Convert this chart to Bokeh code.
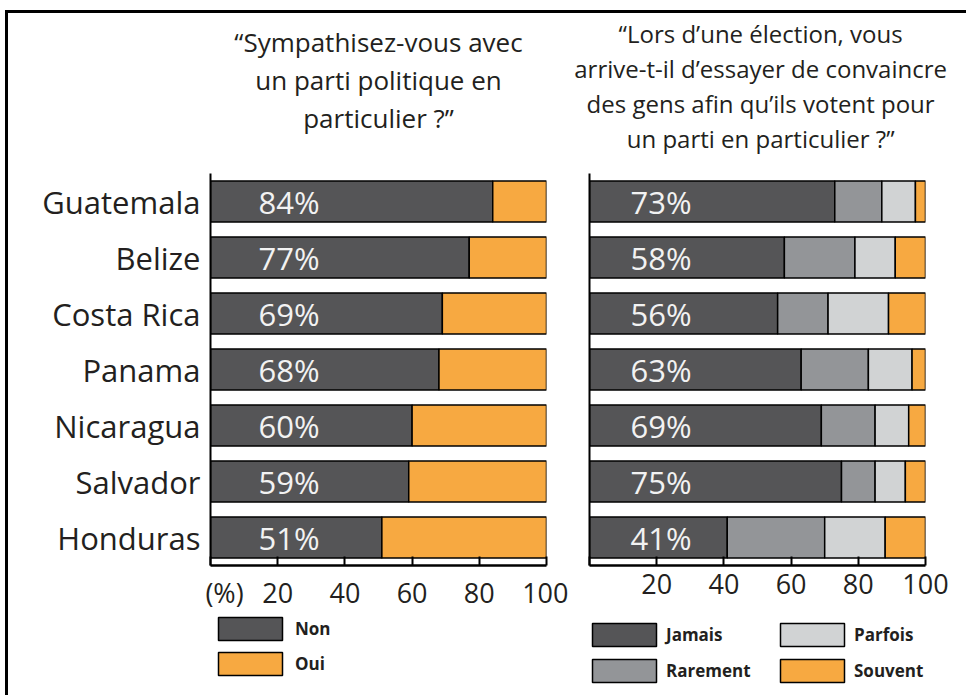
from bokeh.plotting import figure
from bokeh.models import (FactorRange, Range1d, FixedTicker, LabelSet, ColumnDataSource,
                          Legend, LegendItem, Title, Row, Column)
from bokeh.embed import file_html
from bokeh.resources import INLINE
from bokeh.core.properties import value

# ---- data ----
countries = ["Guatemala", "Belize", "Costa Rica", "Panama", "Nicaragua", "Salvador", "Honduras"]
non = [84, 77, 69, 68, 60, 59, 51]
oui = [16, 23, 31, 32, 40, 41, 49]
jamais = [73, 58, 56, 63, 69, 75, 41]
rarement = [14, 21, 15, 20, 16, 10, 29]
parfois = [10, 12, 18, 13, 10, 9, 18]
souvent = [3, 9, 11, 4, 5, 6, 12]
x_ticks = [0, 20, 40, 60, 80, 100]
left_names = ["Non", "Oui"]
right_names = ["Jamais", "Rarement", "Parfois", "Souvent"]
title_left = ["“Sympathisez-vous avec", "un parti politique en", "particulier ?”"]
title_right = ["“Lors d’une élection, vous", "arrive-t-il d’essayer de convaincre",
               "des gens afin qu’ils votent pour", "un parti en particulier ?”"]

FONT = "Open Sans"
INK = "#231f20"
DARK = "#555557"
MID = "#939598"
LIGHT = "#d1d3d4"
ORANGE = "#f7a941"
BAR_H = 0.733
NB = "\u00a0"


def make_fig(width, border_left, border_right, title_lines, font_size, gap, shift):
    p = figure(width=width, height=600,
               y_range=FactorRange(factors=list(reversed(countries)), range_padding=0),
               x_range=Range1d(0, 100), output_backend="svg", toolbar_location=None,
               title=None, min_border_left=border_left, min_border_right=border_right,
               min_border_top=160, min_border_bottom=46)
    p.outline_line_color = None
    p.xgrid.grid_line_color = None
    p.ygrid.grid_line_color = None
    p.background_fill_color = "white"
    p.border_fill_color = "white"
    # spacer between frame and title block
    p.add_layout(Title(text=" ", text_font_size="1px", standoff=gap), "above")
    for line in reversed(title_lines):
        p.add_layout(Title(text=NB * shift + line, align="center", text_font=FONT,
                           text_font_size=font_size, text_font_style="normal",
                           text_color=INK, standoff=0), "above")
    # x axis styled as a tick strip
    ax = p.xaxis[0]
    ax.ticker = FixedTicker(ticks=x_ticks)
    ax.axis_line_width = 2.5
    ax.axis_line_color = "black"
    ax.major_tick_in = 9
    ax.major_tick_out = 0
    ax.major_tick_line_width = 2
    ax.major_tick_line_color = "black"
    ax.minor_tick_line_color = None
    ax.major_label_text_font = FONT
    ax.major_label_text_font_size = "27px"
    ax.major_label_text_color = INK
    ax.major_label_standoff = 8
    ay = p.yaxis[0]
    ay.axis_line_width = 2
    ay.axis_line_color = "black"
    ay.major_tick_in = 0
    ay.major_tick_out = 0
    ay.major_label_text_font = FONT
    ay.major_label_text_color = INK
    ay.major_label_standoff = 10
    return p


def pct_labels(p, vals, off):
    src = ColumnDataSource(dict(country=countries, txt=[f"{v}%" for v in vals]))
    p.add_layout(LabelSet(x=0, y="country", text="txt", source=src, x_offset=off,
                          text_align="left", text_baseline="middle", text_font=value(FONT),
                          text_font_size="31px", text_color="#f2f2f2"))


def legend_fig(width, names, colors, src, loc, label_width, spacing, standoff):
    # same bar series as the chart, renderers hidden: only the legend swatches show
    f = figure(width=width, height=85, x_range=Range1d(0, 100),
               y_range=FactorRange(factors=list(reversed(countries)), range_padding=0),
               x_axis_location=None, y_axis_location=None, min_border=0,
               toolbar_location=None, output_backend="svg", title=None)
    f.outline_line_color = None
    f.xgrid.grid_line_color = None
    f.ygrid.grid_line_color = None
    rs = f.hbar_stack([n.lower() for n in names], y="country", height=BAR_H, fill_color=colors,
                      line_color="black", line_width=1.5, source=src)
    for r in rs:
        r.visible = False
    items = [LegendItem(label=n, renderers=[r]) for n, r in zip(names, rs)]
    f.add_layout(Legend(items=items, location=loc, orientation="vertical", nrows=2,
                        glyph_width=80, glyph_height=29, spacing=spacing,
                        label_standoff=standoff, label_width=label_width, label_height=23,
                        label_text_font=FONT, label_text_font_size="17px",
                        label_text_font_style="bold", label_text_color=INK,
                        border_line_color=None, background_fill_alpha=0,
                        inactive_fill_alpha=0, click_policy="none",
                        padding=0, margin=0))
    return f


# ---- left chart ----
p1 = make_fig(560, 202, 22, title_left, "26px", 35, 0)
src1 = ColumnDataSource(dict(country=countries, non=non, oui=oui))
p1.hbar_stack(["non", "oui"], y="country", height=BAR_H, fill_color=[DARK, ORANGE],
              line_color="black", line_width=1.5, source=src1)
p1.xaxis[0].major_label_overrides = {0: NB * 4 + "(%)"}
p1.yaxis[0].major_label_text_font_size = "31px"
pct_labels(p1, non, 48)

# ---- right chart ----
p2 = make_fig(401, 21, 44, title_right, "24px", 16, 1)
src2 = ColumnDataSource(dict(country=countries, jamais=jamais, rarement=rarement,
                             parfois=parfois, souvent=souvent))
p2.hbar_stack(["jamais", "rarement", "parfois", "souvent"], y="country", height=BAR_H,
              fill_color=[DARK, MID, LIGHT, ORANGE], line_color="black", line_width=1.5,
              source=src2)
p2.xaxis[0].major_label_overrides = {0: ""}
p2.yaxis[0].major_label_text_font_size = "0px"
pct_labels(p2, jamais, 41)

# ---- legends ----
l1 = legend_fig(560, left_names, [DARK, ORANGE], src1, (202, 20), 40, 6, 5)
l2 = legend_fig(401, right_names, [DARK, MID, LIGHT, ORANGE], src2, (16, 13), 99, 7, 2)

layout = Column(children=[Row(children=[p1, p2]), Row(children=[l1, l2])],
                margin=(13, 0, 0, 8),
                styles={"box-shadow": "-3px -3px 0px 0px black"})

open("out.html", "w").write(file_html(layout, INLINE))
